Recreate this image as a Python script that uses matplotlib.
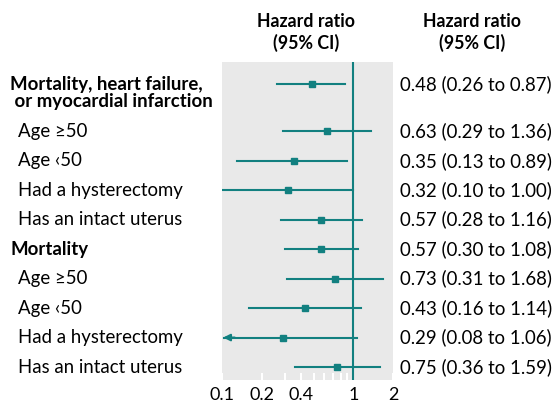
import numpy as np
import matplotlib
matplotlib.use('Agg')
import matplotlib.pyplot as plt

plt.rcParams['font.family'] = ['Lato', 'DejaVu Sans']

labels = ['Mortality, heart failure,\n or myocardial infarction', 'Age ≥50', 'Age ‹50',
          'Had a hysterectomy', 'Has an intact uterus', 'Mortality', 'Age ≥50', 'Age ‹50',
          'Had a hysterectomy', 'Has an intact uterus']
bold = [True, False, False, False, False, True, False, False, False, False]
hr = [0.48, 0.63, 0.35, 0.32, 0.57, 0.57, 0.73, 0.43, 0.29, 0.75]
lo = [0.26, 0.29, 0.13, 0.10, 0.28, 0.30, 0.31, 0.16, 0.08, 0.36]
hi = [0.87, 1.36, 0.89, 1.00, 1.16, 1.08, 1.68, 1.14, 1.06, 1.59]
tick_vals = [0.1, 0.2, 0.4, 1, 2]
tick_labels = ['0.1', '0.2', '0.4', '1', '2']

teal = '#128080'
xmin, xmax = 0.1, 2
fs = 13.4

fig = plt.figure(figsize=(5.58, 4.05), dpi=100)
ax = fig.add_axes([222/558, (405-380)/405, (393-222)/558, (380-62)/405])
ax.set_facecolor('#e9e9e9')
for s in ax.spines.values():
    s.set_visible(False)

# row positions: extra gap below the two-line first label
ys = np.array([0] + [i + 0.6 for i in range(1, len(hr))])
ax.set_xscale('log')
ax.set_xlim(xmin, xmax)
ax.set_ylim(ys[-1] + 0.44, -0.75)

ax.axvline(1, color=teal, lw=1.5, zorder=2)
for y, h, l, u in zip(ys, hr, lo, hi):
    if l < xmin:
        ax.plot([xmin * 1.04, u], [y, y], color=teal, lw=1.5, zorder=3)
        ax.annotate('', xy=(xmin * 1.02, y), xytext=(xmin * 1.25, y),
                    arrowprops=dict(arrowstyle='-|>', color=teal, lw=1.5,
                                    mutation_scale=10, shrinkA=0, shrinkB=0), zorder=3)
    else:
        ax.plot([l, u], [y, y], color=teal, lw=1.5, zorder=3)
    ax.plot(h, y, marker='s', ms=5, color=teal, zorder=4)

ax.set_yticks([])
ax.set_xticks(tick_vals)
ax.set_xticklabels(tick_labels, fontsize=13)
ax.xaxis.set_minor_locator(matplotlib.ticker.FixedLocator([0.3, 0.5, 0.6, 0.7, 0.8, 0.9]))
ax.xaxis.set_minor_formatter(matplotlib.ticker.NullFormatter())
ax.tick_params(axis='x', which='both', direction='in', color='white', width=1.5, pad=5)
ax.tick_params(axis='x', which='major', length=5)
ax.tick_params(axis='x', which='minor', length=5)

for y, lab, b in zip(ys, labels, bold):
    x = 10 if b else 18
    yp = ax.transData.transform((1, y))[1]
    if '\n' in lab:
        fig.text(x / 558, (yp - 9) / 405, lab, fontsize=fs, fontweight='bold', va='center',
                 ha='left', linespacing=1.0)
    else:
        fig.text(x / 558, yp / 405, lab, fontsize=fs, fontweight='bold' if b else 'normal',
                 va='center', ha='left')

for y, h, l, u in zip(ys, hr, lo, hi):
    yp = ax.transData.transform((1, y))[1]
    fig.text(400 / 558, yp / 405, f'{h:.2f} ({l:.2f} to {u:.2f})', fontsize=fs,
             va='center', ha='left')

fig.text(306 / 558, (405 - 32.5) / 405, 'Hazard ratio\n(95% CI)', fontsize=12.8,
         fontweight='bold', ha='center', va='center', linespacing=1.2)
fig.text(472 / 558, (405 - 32.5) / 405, 'Hazard ratio\n(95% CI)', fontsize=12.8,
         fontweight='bold', ha='center', va='center', linespacing=1.2)

fig.savefig('out.png', dpi=100)
